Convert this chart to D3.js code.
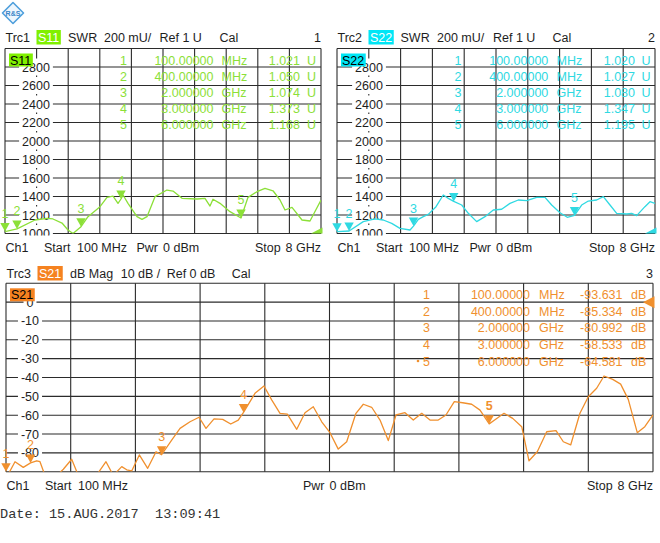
<!DOCTYPE html>
<html><head><meta charset="utf-8">
<script src="https://cdn.jsdelivr.net/npm/d3@7"></script>
<style>
body{margin:0;background:#fff}
svg text{font-family:"Liberation Sans",Arial,sans-serif}
</style>
</head><body>
<svg id="chart" width="660" height="543"></svg>
<script>
// ---------------- DATA ----------------
const freqDomain = [0.1, 8.0]; // GHz
const markerNumbers = ["1", "2", "3", "4", "5"];
const markerFreq = [0.1, 0.4, 2.0, 3.0, 6.0];
const markerFreqText = ["100.00000", "400.00000", "2.000000", "3.000000", "6.000000"];
const markerFreqUnit = ["MHz", "MHz", "GHz", "GHz", "GHz"];
const s11MarkerValues = [1.021, 1.050, 1.074, 1.373, 1.168];
const s22MarkerValues = [1.020, 1.027, 1.080, 1.347, 1.195];
const s21MarkerValues = [-93.631, -85.334, -80.992, -58.533, -64.581];
const s11MarkerText = ["1.021", "1.050", "1.074", "1.373", "1.168"];
const s22MarkerText = ["1.020", "1.027", "1.080", "1.347", "1.195"];
const s21MarkerText = ["-93.631", "-85.334", "-80.992", "-58.533", "-64.581"];

const swrTickValues = [1.0, 1.2, 1.4, 1.6, 1.8, 2.0, 2.2, 2.4, 2.6, 2.8];
const swrTickLabels = ["1000", "1200", "1400", "1600", "1800", "2000", "2200", "2400", "2600", "2800"];
const dbTickValues = [0, -10, -20, -30, -40, -50, -60, -70, -80];
const dbTickLabels = ["0", "-10", "-20", "-30", "-40", "-50", "-60", "-70", "-80"];

const s11Freq = [0.1, 0.4, 0.85, 1.15, 1.3, 1.525, 1.675, 1.8, 2.0, 2.175, 2.475, 2.65, 2.8, 2.925, 3.0, 3.05, 3.175, 3.4, 3.525, 3.65, 3.85, 4.15, 4.3, 4.525, 4.9, 5.1, 5.225, 5.3, 5.475, 5.725, 6.0, 6.175, 6.4, 6.6, 6.8, 6.975, 7.1, 7.275, 7.525, 7.725, 8.0];
const s11Swr = [1.021, 1.050, 1.146, 1.164, 1.157, 1.113, 1.038, 1.000, 1.074, 1.182, 1.290, 1.391, 1.405, 1.326, 1.373, 1.416, 1.326, 1.182, 1.153, 1.182, 1.398, 1.470, 1.459, 1.380, 1.373, 1.380, 1.297, 1.370, 1.326, 1.236, 1.168, 1.391, 1.452, 1.488, 1.462, 1.362, 1.254, 1.283, 1.146, 1.135, 1.362];

const s22Freq = [0.1, 0.4, 0.753, 1.044, 1.25, 1.459, 1.665, 1.914, 2.0, 2.12, 2.244, 2.368, 2.56, 2.74, 2.865, 3.0, 3.198, 3.362, 3.57, 3.777, 3.983, 4.19, 4.398, 4.604, 4.813, 5.06, 5.267, 5.433, 5.64, 5.82, 6.0, 6.178, 6.343, 6.55, 6.716, 6.882, 7.048, 7.297, 7.42, 7.545, 7.75, 7.875, 8.0];
const s22Swr = [1.020, 1.027, 1.128, 1.157, 1.146, 1.110, 1.056, 1.038, 1.080, 1.153, 1.182, 1.207, 1.290, 1.416, 1.380, 1.347, 1.308, 1.218, 1.128, 1.182, 1.254, 1.262, 1.326, 1.362, 1.355, 1.391, 1.391, 1.308, 1.225, 1.175, 1.195, 1.308, 1.351, 1.362, 1.398, 1.308, 1.218, 1.211, 1.218, 1.193, 1.290, 1.344, 1.326];

const s21Freq = [0.1, 0.21, 0.311, 0.4, 0.475, 0.515, 0.576, 0.698, 0.8, 0.902, 0.983, 1.187, 1.321, 1.41, 1.513, 1.574, 1.635, 1.728, 1.83, 1.932, 2.0, 2.123, 2.225, 2.347, 2.457, 2.542, 2.64, 2.746, 2.844, 2.936, 3.0, 3.14, 3.25, 3.344, 3.446, 3.535, 3.65, 3.751, 3.852, 3.955, 4.056, 4.157, 4.26, 4.373, 4.463, 4.565, 4.667, 4.768, 4.862, 4.972, 5.073, 5.176, 5.277, 5.378, 5.472, 5.574, 5.676, 5.786, 5.888, 6.0, 6.079, 6.181, 6.287, 6.397, 6.486, 6.587, 6.702, 6.816, 6.905, 6.995, 7.108, 7.21, 7.312, 7.402, 7.508, 7.605, 7.698, 7.808, 7.9, 8.0];
const s21Mag = [-93.6, -84.7, -87.7, -85.3, -84.2, -84.7, -92, -93, -88.7, -83.4, -92, -93, -84.7, -92, -87.3, -89, -89.6, -81.1, -88.2, -79.4, -81.0, -73.2, -67, -63.5, -61.1, -67, -62, -62.2, -64.7, -62.6, -58.5, -48.4, -44.5, -51.9, -59, -59.4, -67.5, -58.7, -55.5, -63.5, -69.3, -78, -74.1, -59, -54.2, -55.8, -62.6, -73.5, -59.9, -58.7, -62.6, -59, -62.6, -62.6, -59.9, -52.8, -53.4, -54.2, -57.3, -64.6, -62.2, -59, -61.7, -66.1, -84.2, -79.4, -68.8, -68.2, -74.1, -75.8, -59, -50.2, -45.7, -39.2, -41, -43.5, -51.6, -69.3, -66.1, -59.9];

const dateText = "Date: 15.AUG.2017  13:09:41";

// ---------------- LAYOUT ----------------
const svg = d3.select("#chart");
const defs = svg.append("defs");
const FS = 12.5;
const GRID = "#2b2b2b";
const TXT = "#1e1e1e";

const panels = [
  {key: "p1", left: 5, right: 321, top: 48.5, bottom: 233.5, yDomain: [1, 3],
   tickValues: swrTickValues, tickLabels: swrTickLabels, labelDx: 31,
   freq: s11Freq, vals: s11Swr, mk: s11MarkerValues, mkText: s11MarkerText, unit: "U",
   color: "#8ce038", badge: "#80f000", name: "S11", trc: "Trc1", chan: "1",
   header: [["SWR", 63], ["200 mU/", 99], ["Ref 1 U", 154.5], ["Cal", 214.5]],
   headY: 37, footY: 247, refLevel: 1, rowY: [60, 76.2, 92.4, 108.6, 124.8],
   cols: {num: -194, freq: -107.5, unit: -99.5, val: -21, u: -14}},
  {key: "p2", left: 337, right: 655, top: 48.5, bottom: 233.5, yDomain: [1, 3],
   tickValues: swrTickValues, tickLabels: swrTickLabels, labelDx: 32,
   freq: s22Freq, vals: s22Swr, mk: s22MarkerValues, mkText: s22MarkerText, unit: "U",
   color: "#2fd9e2", badge: "#00e6f6", name: "S22", trc: "Trc2", chan: "2",
   header: [["SWR", 63.5], ["200 mU/", 100], ["Ref 1 U", 156], ["Cal", 215.5]],
   headY: 37, footY: 247, refLevel: 1, rowY: [60, 76.2, 92.4, 108.6, 124.8],
   cols: {num: -193.5, freq: -106.7, unit: -98.5, val: -20, u: -13.5}},
  {key: "p3", left: 6, right: 653, top: 283.3, bottom: 471.7, yDomain: [-90, 10],
   tickValues: dbTickValues, tickLabels: dbTickLabels, labelDx: 24,
   freq: s21Freq, vals: s21Mag, mk: s21MarkerValues, mkText: s21MarkerText, unit: "dB",
   color: "#f0902e", badge: "#f58220", name: "S21", trc: "Trc3", chan: "3",
   header: [["dB Mag", 64], ["10 dB /", 114.7], ["Ref 0 dB", 160.7], ["Cal", 225.7]],
   headY: 273, footY: 485, refLevel: 0, rowY: [294.3, 311, 327.7, 344.4, 361],
   cols: {num: -223, freq: -123, unit: -114, val: -30.5, u: -22}, activeDot: true}
];

function txt(g, x, y, s, opts = {}) {
  return g.append("text").attr("x", x).attr("y", y + FS * 0.36)
    .attr("font-size", opts.size || FS).attr("fill", opts.fill || TXT)
    .attr("text-anchor", opts.anchor || "start")
    .attr("font-weight", opts.weight || "normal").text(s);
}

function drawPanel(p) {
  const g = svg.append("g");
  const x = d3.scaleLinear().domain(freqDomain).range([p.left, p.right]);
  const y = d3.scaleLinear().domain(p.yDomain).range([p.bottom, p.top]);
  const clipId = "clip_" + p.key;
  defs.append("clipPath").attr("id", clipId).append("rect")
    .attr("x", p.left).attr("y", p.top).attr("width", p.right - p.left).attr("height", p.bottom - p.top);
  const clipLbl = "clipl_" + p.key;
  defs.append("clipPath").attr("id", clipLbl).append("rect")
    .attr("x", 0).attr("y", p.top - 12).attr("width", 660).attr("height", p.bottom - p.top + 14);

  const xDiv = d3.range(11).map(i => freqDomain[0] + i * (freqDomain[1] - freqDomain[0]) / 10);
  const yDiv = d3.range(11).map(i => p.yDomain[0] + i * (p.yDomain[1] - p.yDomain[0]) / 10);

  // grid
  g.append("g").selectAll("line").data(xDiv).join("line")
    .attr("x1", d => x(d)).attr("x2", d => x(d)).attr("y1", p.top).attr("y2", p.bottom)
    .attr("stroke", GRID).attr("stroke-width", 1.1);
  g.append("g").selectAll("line").data(yDiv).join("line")
    .attr("x1", p.left).attr("x2", p.right).attr("y1", d => y(d)).attr("y2", d => y(d))
    .attr("stroke", GRID).attr("stroke-width", 1.1);

  // y labels with white background
  const lg = g.append("g").attr("clip-path", `url(#${clipLbl})`);
  p.tickValues.forEach((v, i) => {
    const cx = p.left + p.labelDx, cy = y(v);
    const t = txt(lg, cx, cy, p.tickLabels[i], {anchor: "middle"});
    const w = t.node().getComputedTextLength();
    lg.insert("rect", "text").attr("x", cx - w / 2 - 3).attr("y", cy - 8.5)
      .attr("width", w + 6).attr("height", 17).attr("fill", "#fff");
  });

  // marker table
  const tg = g.append("g");
  markerNumbers.forEach((n, i) => {
    const yy = p.rowY[i];
    txt(tg, p.right + p.cols.num, yy, n, {anchor: "end", fill: p.color});
    txt(tg, p.right + p.cols.freq, yy, markerFreqText[i], {anchor: "end", fill: p.color});
    txt(tg, p.right + p.cols.unit, yy, markerFreqUnit[i], {fill: p.color});
    txt(tg, p.right + p.cols.val, yy, p.mkText[i], {anchor: "end", fill: p.color});
    txt(tg, p.right + p.cols.u, yy, p.unit, {fill: p.color});
  });
  if (p.activeDot) {
    tg.append("circle").attr("cx", p.right + p.cols.num - 12).attr("cy", p.rowY[4]).attr("r", 1.3).attr("fill", p.color);
  }

  // trace
  const data = p.freq.map((f, i) => [f, p.vals[i]]);
  g.append("path").datum(data).attr("clip-path", `url(#${clipId})`)
    .attr("d", d3.line().x(d => x(d[0])).y(d => y(d[1])))
    .attr("fill", "none").attr("stroke", p.color).attr("stroke-width", 1.3).attr("stroke-linejoin", "round");

  // reference level indicator
  const ry = y(p.refLevel);
  const refClip = "clipr_" + p.key;
  defs.append("clipPath").attr("id", refClip).append("rect")
    .attr("x", p.left).attr("y", p.top).attr("width", p.right - p.left + 4).attr("height", p.bottom - p.top);
  g.append("path").attr("clip-path", `url(#${refClip})`)
    .attr("d", `M${p.right - 10},${ry} L${p.right + 1.5},${ry - 6} L${p.right + 1.5},${ry + 6} Z`)
    .attr("fill", p.color);

  // markers
  markerFreq.forEach((f, i) => {
    const mx = x(f);
    const my = Math.max(p.top, Math.min(p.bottom, y(p.mk[i])));
    g.append("path").attr("d", `M${mx - 4.7},${my - 8.5} L${mx + 4.7},${my - 8.5} L${mx},${my} Z`).attr("fill", p.color);
    txt(g, mx, my - 18, markerNumbers[i], {anchor: "middle", fill: p.color,
      weight: (p.activeDot && i === 4) ? "bold" : "normal"});
  });

  // inner trace badge
  const ib = g.append("g");
  const ibt = txt(ib, p.left + 5, p.top + 11.5, p.name, {fill: "#000"});
  const ibw = ibt.node().getComputedTextLength();
  ib.insert("rect", "text").attr("x", p.left + 4).attr("y", p.top + 5)
    .attr("width", ibw + 2.5).attr("height", 13).attr("fill", p.badge);

  // header
  const hg = svg.append("g");
  txt(hg, p.left + 0.5, p.headY, p.trc);
  const bt = txt(hg, p.left + 33, p.headY, p.name, {fill: "#fff"});
  const bw = bt.node().getComputedTextLength();
  hg.insert("rect", "text").attr("x", p.left + 31.5).attr("y", p.headY - 7)
    .attr("width", bw + 3).attr("height", 14.5).attr("fill", p.badge);
  hg.node().appendChild(bt.node());
  p.header.forEach(([s, dx]) => txt(hg, p.left + dx, p.headY, s));
  txt(hg, p.right, p.headY, p.chan, {anchor: "end"});

  // footer
  const cx = (p.left + p.right) / 2;
  txt(hg, p.left + 0.5, p.footY, "Ch1");
  txt(hg, p.left + 39, p.footY, "Start");
  txt(hg, p.left + 72, p.footY, "100 MHz");
  txt(hg, cx - 5, p.footY, "Pwr", {anchor: "end"});
  txt(hg, cx, p.footY, "0 dBm");
  txt(hg, p.right - 66, p.footY, "Stop");
  txt(hg, p.right, p.footY, "8 GHz", {anchor: "end"});
}

panels.forEach(drawPanel);

// logo
const logo = svg.append("g");
logo.append("path").attr("d", "M13,2.5 L23.5,13 L13,23.5 L2.5,13 Z")
  .attr("fill", "#eef6fd").attr("stroke", "#4f9fdc").attr("stroke-width", 1.6).attr("stroke-linejoin", "round");
logo.append("text").attr("x", 13).attr("y", 15.5).attr("text-anchor", "middle")
  .attr("font-size", 7).attr("fill", "#3b86c8").attr("font-weight", "bold").text("R&S");

// date
svg.append("text").attr("x", 0).attr("y", 518).attr("font-size", 13.6)
  .style("font-family", "'Liberation Mono','DejaVu Sans Mono',monospace").attr("fill", "#333")
  .attr("xml:space", "preserve").style("white-space", "pre").text(dateText);
</script>
</body></html>
